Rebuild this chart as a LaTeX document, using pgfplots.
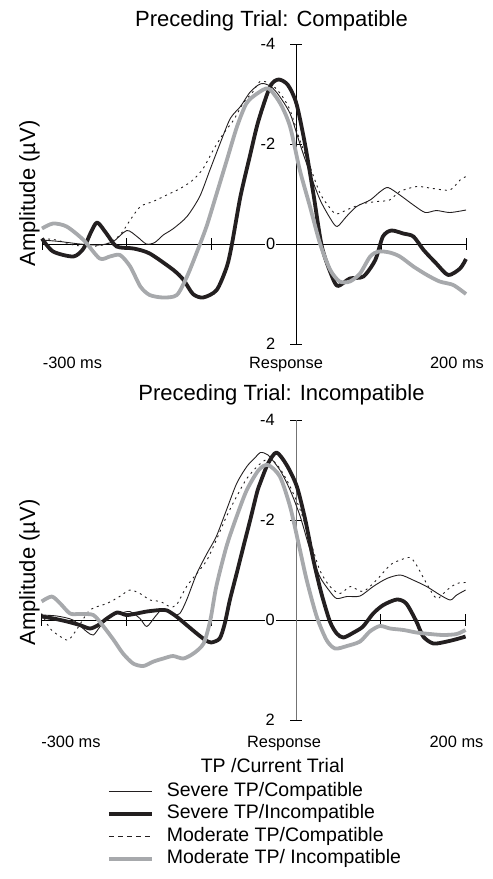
\documentclass[border=0pt]{standalone}
\usepackage{pgfplots}
\pgfplotsset{compat=1.18}
\usepackage{fontspec}
\setmainfont{Liberation Sans}
\definecolor{blk}{HTML}{231F20}
\definecolor{gry}{HTML}{A7A9AC}
\tikzset{
  thinl/.style={blk, line width=0.9pt, line join=round},
  thickl/.style={blk, line width=3.8pt, line join=round},
  dashl/.style={blk, line width=0.9pt, dash pattern=on 2pt off 4pt, line join=round},
  grayl/.style={gry, line width=3.8pt, line join=round},
}
\pgfplotsset{erp/.style={
  scale only axis, width=424pt, height=300pt,
  xmin=-300, xmax=200, ymin=-4, ymax=2, y dir=reverse,
  axis lines=middle, axis line style={-, line width=0.8pt, black},
  enlargelimits=false, clip=false,
  hide obscured x ticks=false, hide obscured y ticks=false,
  xtick={-300,-200,-100,0,100,200}, xticklabels={},
  ytick={-4,-2,0,2}, yticklabels={{-4},{-2},{0},{2}},
  tick align=center, major tick length=12pt,
  tick style={black, line width=0.8pt},
  yticklabel style={font=\fontsize{16.4}{19}\selectfont, fill=white, inner sep=1pt, xshift=-14pt},
  every axis plot/.append style={smooth, tension=0.45},
}}
\begin{document}
\begin{tikzpicture}
\path[use as bounding box] (0,0) rectangle (493pt,-879pt);
% ---------- top ----------
\begin{axis}[erp, at={(296.4pt,-244pt)}, anchor=origin]
\addplot[thinl] coordinates {(-300,-0.08) (-279,-0.05) (-255,0.0) (-232,0.02) (-216,-0.05) (-200,-0.27) (-188,-0.15) (-177,0.0) (-167,-0.03) (-157,-0.18) (-145,-0.31) (-129,-0.55) (-114,-0.95) (-102,-1.48) (-90,-2.01) (-78,-2.51) (-66,-2.75) (-55,-3.03) (-45,-3.18) (-39,-3.21) (-30,-3.15) (-21,-2.98) (-7.5,-2.61) (4,-2.01) (16,-1.41) (28,-0.88) (40,-0.51) (48,-0.35) (59,-0.55) (71,-0.75) (87,-0.88) (99,-1.05) (108,-1.13) (122,-0.98) (138,-0.78) (152,-0.63) (165,-0.67) (181,-0.63) (200,-0.68)};
\addplot[thickl] coordinates {(-300,-0.11) (-287,0.15) (-263,0.25) (-251,0.09) (-243,-0.21) (-235,-0.43) (-224,-0.21) (-212,0.05) (-192,0.09) (-173,0.19) (-145,0.52) (-133,0.72) (-122,1.00) (-110,1.07) (-94,0.92) (-82,0.45) (-76,0.0) (-66,-0.95) (-55,-1.75) (-45,-2.45) (-31,-3.15) (-21,-3.29) (-10,-3.18) (0,-2.81) (10,-2.01) (20,-1.01) (30,0.05) (42,0.65) (49,0.84) (63,0.69) (79,0.65) (93,0.32) (102,-0.15) (112,-0.27) (126,-0.21) (138,-0.15) (150,0.12) (165,0.39) (179,0.62) (193,0.49) (200,0.30)};
\addplot[dashl] coordinates {(-300,-0.11) (-283,-0.08) (-263,0.02) (-243,0.05) (-224,0.0) (-208,-0.18) (-196,-0.48) (-184,-0.75) (-169,-0.85) (-153,-0.98) (-137,-1.11) (-122,-1.28) (-110,-1.51) (-98,-1.88) (-86,-2.21) (-74,-2.48) (-63,-2.81) (-51,-3.05) (-43,-3.25) (-31,-3.21) (-19,-3.01) (-7.5,-2.68) (4,-2.08) (16,-1.55) (28,-1.01) (40,-0.71) (47.5,-0.6) (63,-0.71) (79,-0.81) (95,-0.85) (110,-0.88) (122,-1.05) (142,-1.15) (161,-1.11) (181,-1.08) (193,-1.28) (200,-1.35)};
\addplot[grayl] coordinates {(-300,-0.31) (-287,-0.41) (-271,-0.35) (-251,-0.08) (-232,0.29) (-220,0.25) (-208,0.22) (-196,0.45) (-184,0.85) (-173,1.02) (-157,1.07) (-141,1.02) (-129,0.65) (-118,0.19) (-106,-0.35) (-94,-1.01) (-82,-1.68) (-70,-2.35) (-59,-2.81) (-47,-3.0) (-33,-3.11) (-19,-2.81) (-7.5,-2.35) (4,-1.48) (16,-0.75) (28,0.0) (40,0.52) (51,0.75) (63,0.75) (75,0.59) (87,0.25) (97,0.15) (110,0.17) (122,0.25) (138,0.45) (154,0.62) (169,0.75) (185,0.82) (200,1.0)};
\end{axis}
% ---------- bottom ----------
\begin{axis}[erp, at={(296pt,-620pt)}, anchor=origin,
  y axis line style={draw=black!55},
  legend image code/.code={\draw[#1] (0pt,0pt) -- (43pt,0pt);},
  legend style={at={(axis cs:-223,3.24)}, anchor=north west, draw=none, fill=none,
    inner sep=0pt, row sep=4pt, font=\fontsize{19.5}{22}\selectfont,
    nodes={inner sep=0pt, text height=14pt, text depth=4.5pt},
    /tikz/every odd column/.append style={column sep=13pt}},
  legend cell align=left]
\addlegendimage{thinl}\addlegendentry{Severe TP/Compatible}
\addlegendimage{thickl}\addlegendentry{Severe TP/Incompatible}
\addlegendimage{blk, line width=0.9pt, dash pattern=on 5pt off 4pt}\addlegendentry{Moderate TP/Compatible}
\addlegendimage{grayl}\addlegendentry{Moderate TP/ Incompatible}
\addplot[thinl, forget plot] coordinates {(-300,-0.1) (-282,-0.08) (-263,0.0) (-247,0.23) (-239,0.3) (-231,0.13) (-219,-0.1) (-208,-0.13) (-196,-0.17) (-184,-0.03) (-176,0.13) (-166,-0.07) (-156.5,-0.23) (-145,-0.1) (-137,-0.13) (-129,-0.4) (-117,-0.93) (-105,-1.33) (-94,-1.67) (-82,-2.2) (-70,-2.73) (-58,-3.07) (-48,-3.25) (-42,-3.35) (-33,-3.3) (-19,-3.0) (-7,-2.6) (5,-2.07) (16.6,-1.4) (28,-0.87) (40,-0.57) (48,-0.43) (60,-0.47) (75.5,-0.48) (91,-0.67) (107,-0.83) (123,-0.9) (138,-0.8) (154,-0.67) (170,-0.5) (182,-0.4) (189.5,-0.5) (200,-0.6)};
\addplot[thickl, forget plot] coordinates {(-300,-0.07) (-286,-0.03) (-270,0.03) (-255,0.10) (-243,0.17) (-233,0.10) (-223,-0.03) (-211,-0.15) (-200,-0.10) (-188,-0.13) (-176,-0.17) (-160,-0.20) (-152,-0.19) (-141,-0.07) (-129,0.10) (-117,0.27) (-107,0.40) (-100,0.45) (-90,0.37) (-84,0.07) (-78,-0.40) (-70,-0.93) (-62,-1.47) (-54,-2.0) (-46,-2.55) (-42,-2.75) (-33,-3.13) (-23,-3.35) (-11,-3.1) (1,-2.67) (11,-2.0) (20.5,-1.2) (30,-0.53) (40,0.03) (48,0.27) (56,0.35) (68,0.25) (79,0.13) (91,-0.13) (103,-0.3) (119,-0.41) (130,-0.33) (142,0.03) (150,0.33) (162,0.47) (178,0.43) (190,0.38) (200,0.33)};
\addplot[dashl, forget plot] coordinates {(-300,-0.13) (-290,0.17) (-278,0.33) (-268.5,0.4) (-259,0.2) (-243,-0.2) (-223,-0.33) (-208,-0.47) (-196,-0.6) (-184,-0.53) (-172,-0.4) (-160,-0.37) (-149,-0.27) (-141,-0.3) (-129,-0.67) (-117,-0.93) (-105,-1.2) (-94,-1.6) (-82,-2.07) (-70,-2.47) (-58,-2.83) (-44,-3.1) (-31,-3.23) (-19,-3.03) (-7,-2.67) (5,-2.2) (16.6,-1.6) (28,-1.0) (40,-0.67) (52,-0.53) (64,-0.67) (79,-0.57) (95,-0.8) (111,-1.1) (123,-1.2) (134.5,-1.25) (142,-1.1) (154,-0.73) (166,-0.43) (178,-0.6) (189.5,-0.73) (200,-0.75)};
\addplot[grayl, forget plot] coordinates {(-300,-0.37) (-288,-0.47) (-278,-0.33) (-266.5,-0.13) (-255,-0.12) (-239,-0.10) (-227,0.13) (-215,0.40) (-204,0.67) (-192,0.87) (-180,0.92) (-168,0.83) (-156.5,0.77) (-145,0.72) (-133,0.77) (-121,0.67) (-109,0.47) (-101,0.0) (-94,-0.67) (-82,-1.47) (-70,-2.07) (-58,-2.6) (-44,-3.0) (-33,-3.1) (-19,-2.87) (-7,-2.27) (3,-1.53) (12.6,-0.8) (24.4,-0.07) (36,0.4) (46,0.57) (60,0.52) (75.5,0.43) (87,0.23) (99,0.12) (111,0.17) (127,0.2) (142,0.25) (158,0.28) (174,0.3) (189.5,0.28) (200,0.2)};
\end{axis}
% ---------- texts ----------
\begingroup\fontsize{22}{26}\selectfont
\node[anchor=base] at (271.5pt,-26pt) {Preceding Trial: Compatible};
\node[anchor=base] at (281.5pt,-400pt) {Preceding Trial: Incompatible};
\node[rotate=90, anchor=base] at (35pt,-193.5pt) {Amplitude (µV)};
\node[rotate=90, anchor=base] at (35pt,-572.5pt) {Amplitude (µV)};
\endgroup
\begingroup\fontsize{16.4}{19}\selectfont
\node[anchor=base] at (72.5pt,-368pt) {-300 ms};
\node[anchor=base] at (286pt,-368pt) {Response};
\node[anchor=base] at (457pt,-368pt) {200 ms};
\node[anchor=base] at (71pt,-747pt) {-300 ms};
\node[anchor=base] at (284pt,-747pt) {Response};
\node[anchor=base] at (456.5pt,-747pt) {200 ms};
\endgroup
\node[anchor=base, font=\fontsize{19.5}{22}\selectfont] at (272.5pt,-772.7pt) {TP /Current Trial};
\end{tikzpicture}
\end{document}
